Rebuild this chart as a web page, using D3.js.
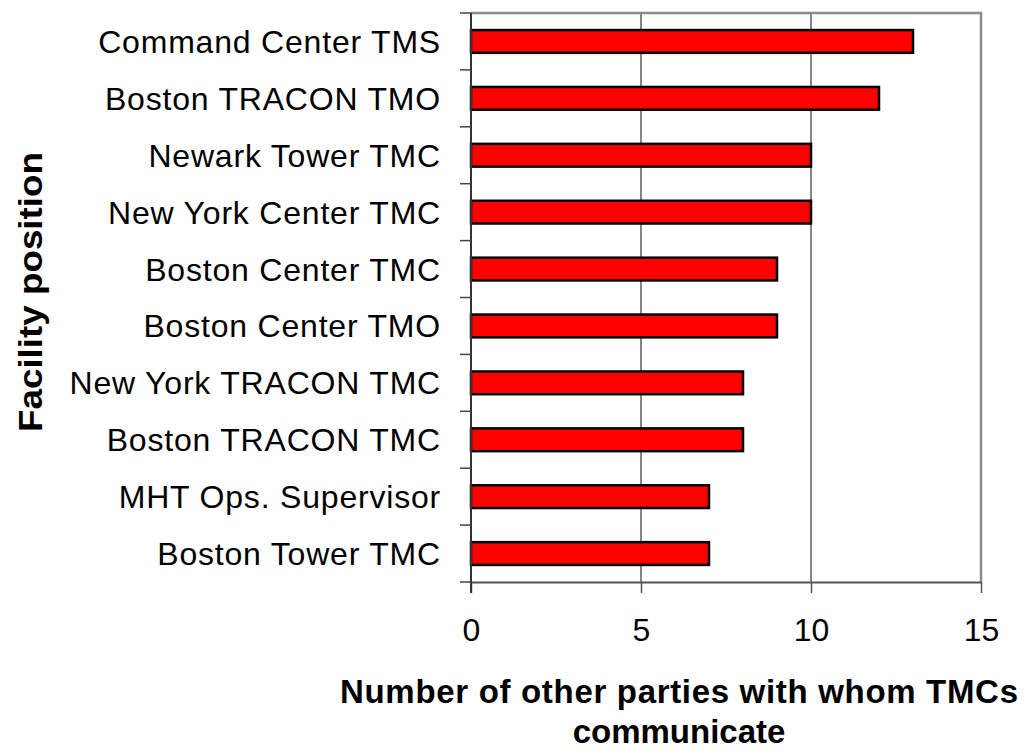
<!DOCTYPE html>
<html>
<head>
<meta charset="utf-8">
<script src="https://cdn.jsdelivr.net/npm/d3@7"></script>
<style>
  html, body { margin: 0; padding: 0; background: #fff; }
  svg { display: block; font-family: Arial, "Liberation Sans", sans-serif; }
</style>
</head>
<body>
<svg id="chart" width="1024" height="751"></svg>
<script>
// Facility positions, top to bottom
const positions = [
  "Command Center TMS",
  "Boston TRACON TMO",
  "Newark Tower TMC",
  "New York Center TMC",
  "Boston Center TMC",
  "Boston Center TMO",
  "New York TRACON TMC",
  "Boston TRACON TMC",
  "MHT Ops. Supervisor",
  "Boston Tower TMC"
];
// Number of other parties each position communicates with
const partyCounts = [13, 12, 10, 10, 9, 9, 8, 8, 7, 7];
const xTicks = [0, 5, 10, 15];
const xTitleLines = ["Number of other parties with whom TMCs", "communicate"];
const yTitle = "Facility position";

const svg = d3.select("#chart");
const plot = { left: 471, right: 981, top: 13, bottom: 582 };

const x = d3.scaleLinear().domain([0, 15]).range([plot.left, plot.right]);
const y = d3.scaleBand().domain(positions).range([plot.top, plot.bottom]).paddingInner(0.6).paddingOuter(0.3);

// Vertical gridlines
svg.append("g").selectAll("line")
  .data(xTicks.filter(t => t > 0 && t < 15))
  .join("line")
  .attr("x1", d => x(d)).attr("x2", d => x(d))
  .attr("y1", plot.top).attr("y2", plot.bottom)
  .attr("stroke", "#333").attr("stroke-width", 1.2);

// Plot frame: top and right edges
svg.append("path")
  .attr("d", `M${plot.left},${plot.top}H${plot.right}V${plot.bottom}`)
  .attr("fill", "none").attr("stroke", "#8c8c8c").attr("stroke-width", 2.5);

// Bars
svg.append("g").selectAll("rect")
  .data(positions.map((p, i) => ({ p, v: partyCounts[i] })))
  .join("rect")
  .attr("x", x(0))
  .attr("y", d => y(d.p))
  .attr("width", d => x(d.v) - x(0))
  .attr("height", y.bandwidth())
  .attr("fill", "#ff0000")
  .attr("stroke", "#000")
  .attr("stroke-width", 2.5);

// Bottom axis
const xAxis = svg.append("g")
  .attr("transform", `translate(0,${plot.bottom})`)
  .call(d3.axisBottom(x).tickValues(xTicks).tickSizeInner(11).tickSizeOuter(0).tickPadding(25));
xAxis.select(".domain").attr("stroke", "#555").attr("stroke-width", 2);
xAxis.selectAll(".tick line").attr("stroke", "#555").attr("stroke-width", 1.5);
xAxis.selectAll(".tick text")
  .attr("font-size", 32).attr("fill", "#000")
  .attr("font-family", "Arial, 'Liberation Sans', sans-serif");

// Left axis with ticks between categories
const yAxisG = svg.append("g");
yAxisG.append("line")
  .attr("x1", plot.left).attr("x2", plot.left)
  .attr("y1", plot.top).attr("y2", plot.bottom + 11)
  .attr("stroke", "#333").attr("stroke-width", 2);
const bounds = d3.range(positions.length + 1).map(i => plot.top + i * (plot.bottom - plot.top) / positions.length);
yAxisG.selectAll("line.tk")
  .data(bounds)
  .join("line")
  .attr("class", "tk")
  .attr("x1", plot.left - 11).attr("x2", plot.left)
  .attr("y1", d => d).attr("y2", d => d)
  .attr("stroke", "#444").attr("stroke-width", 1.5);

// Category labels
svg.append("g").selectAll("text")
  .data(positions)
  .join("text")
  .attr("x", 441)
  .attr("y", d => y(d) + y.bandwidth() / 2)
  .attr("dy", "0.36em")
  .attr("text-anchor", "end")
  .attr("font-size", 32)
  .attr("letter-spacing", 0.8)
  .attr("fill", "#000")
  .text(d => d);

// Axis titles
svg.append("text")
  .attr("x", 679).attr("y", 703)
  .attr("text-anchor", "middle")
  .attr("font-size", 33).attr("font-weight", "bold")
  .attr("textLength", 678).attr("lengthAdjust", "spacing")
  .text(xTitleLines[0]);
svg.append("text")
  .attr("x", 679).attr("y", 743)
  .attr("text-anchor", "middle")
  .attr("font-size", 33).attr("font-weight", "bold")
  .text(xTitleLines[1]);

svg.append("text")
  .attr("transform", "translate(42,432) rotate(-90)")
  .attr("font-size", 33).attr("font-weight", "bold")
  .attr("textLength", 280).attr("lengthAdjust", "spacingAndGlyphs")
  .text(yTitle);
</script>
</body>
</html>
